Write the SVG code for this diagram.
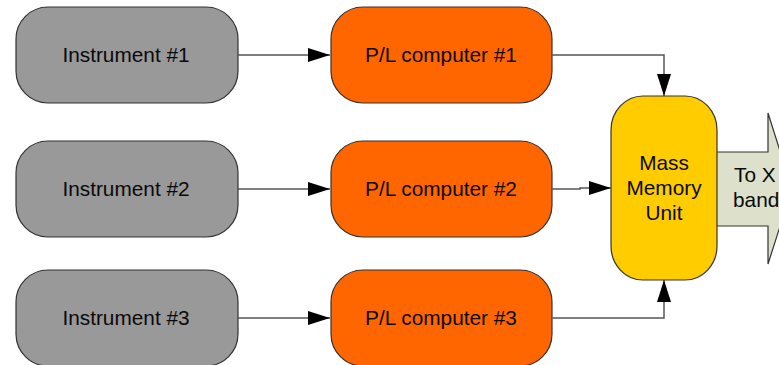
<svg xmlns="http://www.w3.org/2000/svg" width="779" height="365" viewBox="0 0 779 365">
  <defs>
    <style>
      .box { stroke: #333333; stroke-width: 1.2; }
      .instr { fill: #999999; }
      .plc { fill: #FF6600; }
      .mmu { fill: #FFCC00; }
      .link { fill: none; stroke: #555555; stroke-width: 1.5; }
      .label { font-family: "Liberation Sans", Arial, sans-serif; font-size: 20.8px; fill: #0A0A0A; text-anchor: middle; }
      .lbl-left { font-family: "Liberation Sans", Arial, sans-serif; font-size: 20.8px; fill: #0A0A0A; }
    </style>
    <marker id="arrow" viewBox="0 0 22 14" refX="22" refY="7" markerWidth="22" markerHeight="14" markerUnits="userSpaceOnUse" orient="auto">
      <path d="M0,0 L22,7 L0,14 Z" fill="#000000"/>
    </marker>
  </defs>

  <rect width="779" height="365" fill="#FFFFFF"/>

  <!-- downlink arrow behind the memory unit -->
  <g id="downlink">
    <path d="M700,152 L768,152 L768,113 L792,189 L768,264 L768,226 L700,226 Z" fill="#DDE0CB" stroke="#333333" stroke-width="1.2"/>
    <text class="lbl-left" x="734" y="182">To X</text>
    <text class="lbl-left" x="733" y="207">band</text>
  </g>

  <g id="instrument1">
    <rect class="box instr" x="16" y="7" width="222" height="96" rx="32" ry="32"/>
    <text class="label" x="126" y="62">Instrument #1</text>
  </g>
  <g id="instrument2">
    <rect class="box instr" x="16" y="141" width="222" height="96" rx="32" ry="32"/>
    <text class="label" x="126" y="196">Instrument #2</text>
  </g>
  <g id="instrument3">
    <rect class="box instr" x="16" y="270" width="222" height="96" rx="32" ry="32"/>
    <text class="label" x="126" y="325">Instrument #3</text>
  </g>

  <g id="plcomputer1">
    <rect class="box plc" x="331" y="7" width="221" height="96" rx="32" ry="32"/>
    <text class="label" x="441" y="62">P/L computer #1</text>
  </g>
  <g id="plcomputer2">
    <rect class="box plc" x="331" y="141" width="221" height="96" rx="32" ry="32"/>
    <text class="label" x="441" y="196">P/L computer #2</text>
  </g>
  <g id="plcomputer3">
    <rect class="box plc" x="331" y="270" width="221" height="96" rx="32" ry="32"/>
    <text class="label" x="441" y="325">P/L computer #3</text>
  </g>

  <g id="massmemory">
    <rect class="box mmu" x="611" y="96" width="106" height="184" rx="32" ry="34"/>
    <text class="label" x="664" y="170">Mass</text>
    <text class="label" x="664" y="195">Memory</text>
    <text class="label" x="664" y="220">Unit</text>
  </g>

  <g id="connectors">
    <line class="link" x1="238" y1="55" x2="330" y2="55" marker-end="url(#arrow)"/>
    <line class="link" x1="238" y1="189" x2="330" y2="189" marker-end="url(#arrow)"/>
    <line class="link" x1="238" y1="318" x2="330" y2="318" marker-end="url(#arrow)"/>
    <polyline class="link" points="552,55 664,55 664,96" marker-end="url(#arrow)"/>
    <polyline class="link" points="552,189 580,189 580,188 611,188" marker-end="url(#arrow)"/>
    <polyline class="link" points="552,318 664,318 664,280" marker-end="url(#arrow)"/>
  </g>
</svg>
